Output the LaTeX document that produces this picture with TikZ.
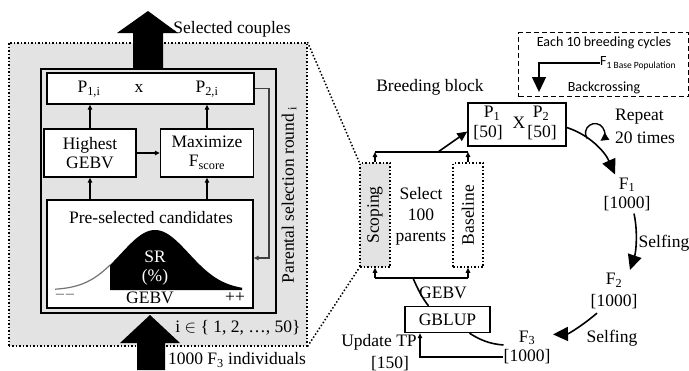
\documentclass[tikz,border=0pt]{standalone}
\usepackage{fontspec}
\setmainfont{Liberation Serif}
\newfontfamily\calib{Carlito}
\usetikzlibrary{arrows.meta}
\begin{document}
\begin{tikzpicture}[x=1pt,y=-1pt,
  every node/.style={font=\fontsize{17.5}{19}\selectfont, inner sep=0pt},
  box/.style={draw, line width=1.4pt, fill=white},
  dotbox/.style={draw, line width=1.5pt, dotted},
  sm/.style={-{Triangle[length=5pt,width=4.5pt]}},
  mid/.style={-{Triangle[length=10pt,width=9pt]}},
  bigtip/.style={-{Triangle[length=15pt,width=14pt]}},
  conn/.style={line width=1.6pt},
  sans/.style={font=\calib\fontsize{14}{16}\selectfont}
]
\useasboundingbox (0,0) rectangle (689,370);

% ---------- parental selection panel ----------
\node[dotbox, fill=black!11, minimum width=298pt, minimum height=303pt, anchor=north west] (panel) at (8,42) {};
\node[draw, line width=2.2pt, minimum width=235pt, minimum height=244pt, anchor=north west] (inner) at (40,68) {};

\node[box, minimum width=207pt, minimum height=31pt] (pbox) at (150.5,88.5) {};
\node at (89,89) {P\textsubscript{1,i}};
\node at (139,88) {x};
\node at (207,89) {P\textsubscript{2,i}};

\node[box, minimum width=92pt, minimum height=48pt, align=center] (high) at (90,153) {Highest\\GEBV};
\node[box, minimum width=93pt, minimum height=48pt, align=center] (maxi) at (207,153) {Maximize\\F\textsubscript{score}};
\node[box, minimum width=206pt, minimum height=108pt] (pre) at (150,254) {};

\draw[sm, line width=1.1pt] (high.north) -- (high.north |- pbox.south);
\draw[sm, line width=1.1pt] (maxi.north) -- (maxi.north |- pbox.south);
\draw[sm, line width=1.1pt] (high.east) -- (maxi.west);
\draw[sm, line width=1.1pt] (pre.north -| high) -- (high.south);
\draw[sm, line width=1.1pt] (pre.north -| maxi) -- (maxi.south);

\coordinate (fb) at (269,258);
\draw[sm, black!75, line width=1.1pt] (pbox.east) -| (fb) -- (fb -| pre.east);

% selection curve
\node at (151,218) {Pre-selected candidates};
\fill (110,290) -- plot[domain=110:242, samples=70] (\x,{290-60*exp(-((\x-155)^2)/2312)}) -- (242,290) -- cycle;
\draw[black!55, line width=1.2pt] plot[domain=55:110, samples=40] (\x,{290-60*exp(-((\x-155)^2)/2312)});
\node[white] at (155,257) {SR};
\node[white] at (155,277) {(\%)};
\node at (150,298) {GEBV};
\node[black!60] at (65,297) {−−};
\node at (235,298) {++};

\node[rotate=90] at (289,195) {Parental selection round\textsubscript{ i}};
\node at (238,328) {i $\in$ \{ 1, 2, …, 50\}};

% block arrows in and out of the panel
\fill (133,68) -- (133,33) -- (117,33) -- (148,11) -- (178,33) -- (163,33) -- (163,68) -- cycle;
\node at (232,29) {Selected couples};
\fill (137,370) -- (137,343) -- (120,343) -- (150,315) -- (180,343) -- (165,343) -- (165,370) -- cycle;
\node at (237,360) {1000 F\textsubscript{3} individuals};

% ---------- breeding cycle ----------
\node[dotbox, fill=black!11, minimum width=30pt, minimum height=104pt] (scop) at (375,215) {};
\node[rotate=90] at (scop) {Scoping};
\node[dotbox, fill=white, minimum width=30pt, minimum height=104pt] (base) at (468,215) {};
\node[rotate=90] at (base) {Baseline};
\node[align=center, font=\fontsize{17.5}{21}\selectfont] (sel) at (421,216) {Select\\100\\parents};

\draw[dotbox] (panel.north east) -- (scop.north west);
\draw[dotbox] (panel.south east) -- (scop.south west);

\coordinate (tb) at (438,152);
\draw[sm, line width=1.3pt] (scop.north) -- (scop.north |- tb);
\draw[sm, line width=1.3pt] (base.north) -- (base.north |- tb);
\draw[line width=1.3pt] (scop.north |- tb) -- (base.north |- tb);

\coordinate (bb) at (420,278);
\draw[line width=1.3pt] (scop.south |- bb) -- (base.south |- bb);
\draw[sm, line width=1.3pt] (scop.south |- bb) -- (scop.south);
\draw[sm, line width=1.3pt] (base.south |- bb) -- (base.south);

\node at (430,87) {Breeding block};
\node[box, fill=none, minimum width=98pt, minimum height=43pt] (cross) at (517,124.5) {};
\node at (492,113) {P\textsubscript{1}};
\node at (488,133) {[50]};
\node at (519,123) {X};
\node at (541,113) {P\textsubscript{2}};
\node at (542,133) {[50]};
\draw[mid, conn] (tb) -- ([yshift=-7pt]cross.west);

% backcrossing every ten cycles
\node[draw, line width=1.4pt, dash pattern=on 5pt off 3pt, minimum width=170pt, minimum height=64pt, anchor=north west] (bc) at (518,32) {};
\node[sans] at (604,43) {Each 10 breeding cycles};
\node[sans, anchor=west] (base1) at (600,63) {F\raisebox{-3pt}{\fontsize{9.5}{11}\selectfont 1 Base Population}};
\node[sans] at (604,88) {Backcrossing};
\coordinate (bcd) at (539,92);
\draw[bigtip, line width=1.4pt] (base1.west) -| (bcd);

% repeat loop
\coordinate (loopc) at (595,133);
\draw[-{Triangle[length=8pt,width=8pt]}, line width=1.4pt] (587.2,138.5) arc[start angle=215, end angle=-55, radius=9.5pt];
\node[anchor=west] at (615,117) {Repeat};
\node[anchor=west] at (615,138) {20 times};

% generations
\node[align=center, font=\fontsize{17.5}{19}\selectfont] (f1) at (627,194) {F\textsubscript{1}\\{}[1000]};
\node[align=center, font=\fontsize{17.5}{22}\selectfont] (f2) at (614,291) {F\textsubscript{2}\\{}[1000]};
\node[align=center, font=\fontsize{17.5}{19}\selectfont] (f3) at (527,347) {F\textsubscript{3}\\{}[1000]};

\draw[bigtip, conn] ([yshift=-3pt]cross.east) .. controls (590,135) and (605,152) .. ([xshift=-12pt,yshift=3pt]f1.north);
\draw[bigtip, conn] ([xshift=7pt,yshift=-3pt]f1.south) .. controls (638,232) and (636,252) .. ([xshift=16pt,yshift=3pt]f2.north);
\node at (664,243) {Selfing};
\draw[bigtip, conn] ([xshift=-17pt,yshift=-4pt]f2.south) .. controls (582,326) and (568,334) .. ([xshift=26pt,yshift=-4pt]f3.north);
\node at (612,338) {Selfing};

% genomic prediction
\node[box, minimum width=85pt, minimum height=26pt] (gblup) at (447.5,319.5) {GBLUP};
\draw[conn] (413,278) .. controls (418,290) and (423,299) .. ([xshift=-19pt]gblup.north);
\node at (443,293) {GEBV};
\draw[conn] ([xshift=22pt]gblup.south) .. controls (480,340) and (490,344) .. (f3.west |- 0,345);
\coordinate (ut) at (420,357);
\draw[sm, line width=1.3pt] (f3.west |- ut) -- (ut) -- (ut |- gblup.south);
\node at (379,342) {Update TP};
\node at (390,364) {[150]};
\end{tikzpicture}
\end{document}
